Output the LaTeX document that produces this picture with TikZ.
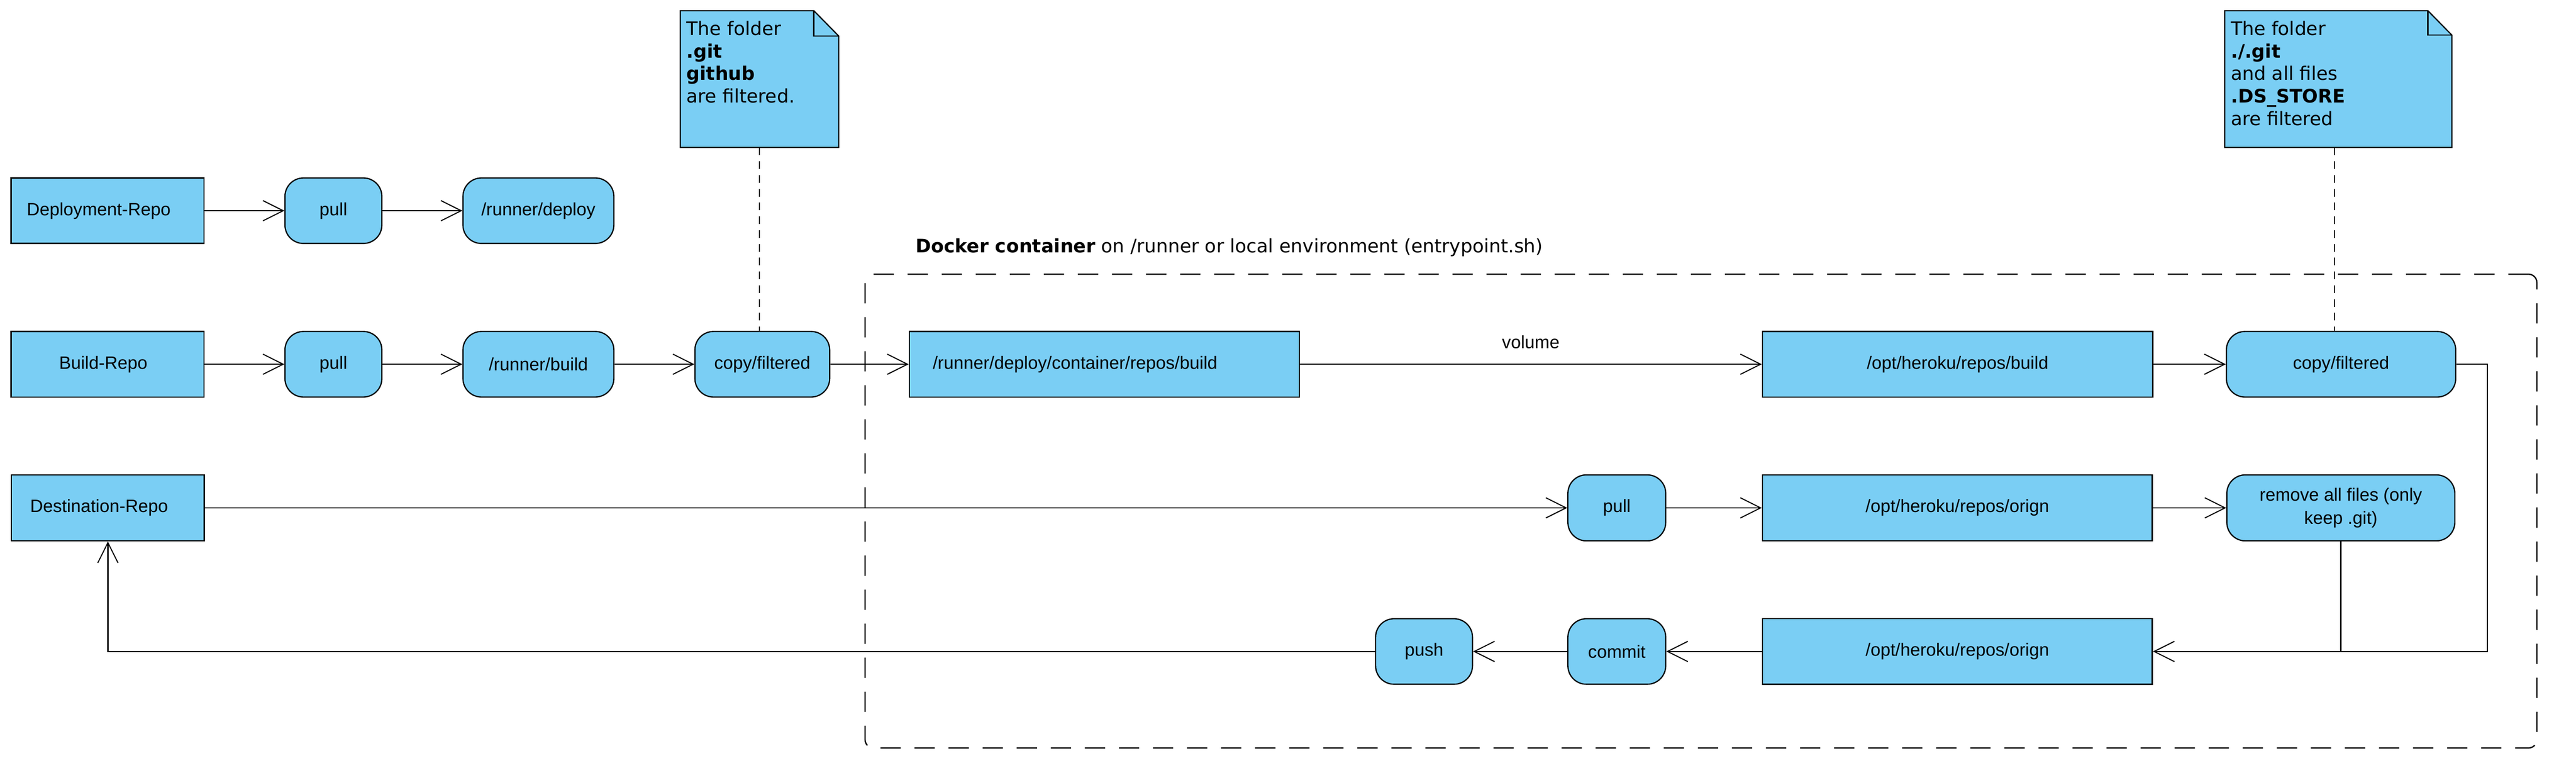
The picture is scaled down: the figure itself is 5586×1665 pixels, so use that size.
\documentclass[tikz,border=0pt]{standalone}
\usepackage{fontspec}
\setmainfont{Liberation Sans}
\newfontfamily\notefont{DejaVu Sans}
\usetikzlibrary{arrows.meta}
\definecolor{nodeblue}{RGB}{122,206,244}
\begin{document}
\begin{tikzpicture}[x=0.01cm,y=-0.01cm,
  lbl/.style={font=\fontsize{11}{14}\selectfont},
  box/.style={draw=black, fill=nodeblue, line width=0.75pt, inner sep=0pt,
    align=center, lbl, minimum height=1.42cm},
  rbox/.style={box, rounded corners=0.4cm},
  repobox/.style={box, minimum width=4.18cm, text width=3.4cm, align=center, inner xsep=0.2cm, xshift=-0.0cm},
  arr/.style={line width=0.75pt, -{Straight Barb[length=12.5pt,width=12.5pt,line width=0.65pt]}},
  plain/.style={line width=0.7pt},
  notedash/.style={line width=0.65pt, dash pattern=on 4.8pt off 3.7pt},
  contdash/.style={line width=0.8pt, dash pattern=on 12.5pt off 8.5pt, rounded corners=0.18cm},
  notetext/.style={anchor=north west, inner sep=0pt, align=left,
    font=\notefont\fontsize{11.5}{13.9}\selectfont},
  noteshape/.style={draw=none, fill=none, inner sep=0pt}
]
\useasboundingbox (0,0) rectangle (5586,1665);

% container
\node[contdash, draw, minimum width=36.23cm, minimum height=10.27cm, inner sep=0pt] (container) at (3688.5,1108.5) {};
\node[anchor=base west, inner sep=0pt, font=\notefont\fontsize{11.5}{14}\selectfont] (title) at (1985,548)
  {\textbf{Docker container} on /runner or local environment (entrypoint.sh)};

% row 1
\node[box, minimum width=4.18cm] (dep) at (233,457) {\hspace*{-0.38cm}Deployment-Repo};
\node[rbox, minimum width=2.10cm] (pull1) at (723,457) {pull};
\node[rbox, minimum width=3.27cm] (rdeploy) at (1167.5,457) {/runner/deploy};

% row 2
\node[box, minimum width=4.18cm] (build) at (233,790) {\hspace*{-0.18cm}Build-Repo};
\node[rbox, minimum width=2.10cm] (pull2) at (723,790) {pull};
\node[rbox, minimum width=3.27cm] (rbuild) at (1167.5,790) {/runner/build};
\node[rbox, minimum width=2.92cm] (copy1) at (1653,790) {copy/filtered};
\node[box, minimum width=8.45cm, text width=7.43cm, align=left, inner xsep=0.51cm] (cbuild) at (2394.5,790) {/runner/deploy/container/repos/build};
\node[box, minimum width=8.46cm] (hbuild) at (4245,790) {/opt/heroku/repos/build};
\node[rbox, minimum width=4.97cm] (copy2) at (5076.5,790) {copy/filtered};

% row 3
\node[box, minimum width=4.18cm, minimum height=1.43cm] (dest) at (234,1101.5) {\hspace*{-0.38cm}Destination-Repo};
\node[rbox, minimum width=2.12cm, minimum height=1.43cm] (pull3) at (3506,1101.5) {pull};
\node[box, minimum width=8.45cm, minimum height=1.43cm] (horign1) at (4244.5,1101.5) {/opt/heroku/repos/orign};
\node[rbox, minimum width=4.94cm, minimum height=1.43cm, font=\fontsize{11}{14.2}\selectfont] (remove) at (5076,1101.5) {remove all files (only\\keep .git)};

% row 4
\node[box, minimum width=8.45cm] (horign2) at (4244.5,1413) {/opt/heroku/repos/orign};
\node[rbox, minimum width=2.12cm] (commit) at (3506,1413) {commit};
\node[rbox, minimum width=2.10cm] (push) at (3088,1413) {push};

% notes
\node[noteshape, minimum width=3.42cm, minimum height=2.95cm] (note1) at (1647,171.5) {};
\filldraw[fill=nodeblue, draw=black, line width=0.75pt]
  (note1.north west) -- ([xshift=-0.54cm]note1.north east) -- ([yshift=-0.55cm]note1.north east)
  -- (note1.south east) -- (note1.south west) -- cycle;
\draw[line width=0.75pt] ([xshift=-0.54cm]note1.north east) |- ([yshift=-0.55cm]note1.north east);
\node[notetext] (note1t) at (1488,45) {The folder\\\textbf{.git}\\\textbf{github}\\are filtered.};

\node[noteshape, minimum width=4.91cm, minimum height=2.95cm] (note2) at (5070.5,171.5) {};
\filldraw[fill=nodeblue, draw=black, line width=0.75pt]
  (note2.north west) -- ([xshift=-0.52cm]note2.north east) -- ([yshift=-0.53cm]note2.north east)
  -- (note2.south east) -- (note2.south west) -- cycle;
\draw[line width=0.75pt] ([xshift=-0.52cm]note2.north east) |- ([yshift=-0.53cm]note2.north east);
\node[notetext] (note2t) at (4837,45) {The folder\\\textbf{./.git}\\and all files\\\textbf{.DS\_STORE}\\are filtered};

\draw[notedash] ([xshift=-0.06cm]copy1.north |- note1.south) -- ([xshift=-0.06cm]copy1.north);
\draw[notedash] ([xshift=-0.145cm]copy2.north |- note2.south) -- ([xshift=-0.145cm]copy2.north);

% connectors row 1
\draw[arr] (dep) -- (pull1);
\draw[arr] (pull1) -- (rdeploy);
% row 2
\draw[arr] (build) -- (pull2);
\draw[arr] (pull2) -- (rbuild);
\draw[arr] (rbuild) -- (copy1);
\draw[arr] (copy1) -- (cbuild);
\draw[arr] (cbuild) -- node[lbl, midway, anchor=base, yshift=0.34cm, inner sep=0pt] (volume) {volume} (hbuild);
\draw[arr] (hbuild) -- (copy2);
% row 3
\draw[arr] (dest) -- (pull3);
\draw[arr] (pull3) -- (horign1);
\draw[arr] (horign1) -- (remove);
% return
\coordinate (rturn) at (5394,790);
\draw[arr] (copy2.east) -- (rturn) |- (horign2.east);
\draw[plain] (remove.south) -- (remove.south |- horign2.east);
\draw[arr] (horign2) -- (commit);
\draw[arr] (commit) -- (push);
\draw[arr] (push.west) -| (dest.south);
\end{tikzpicture}
\end{document}
